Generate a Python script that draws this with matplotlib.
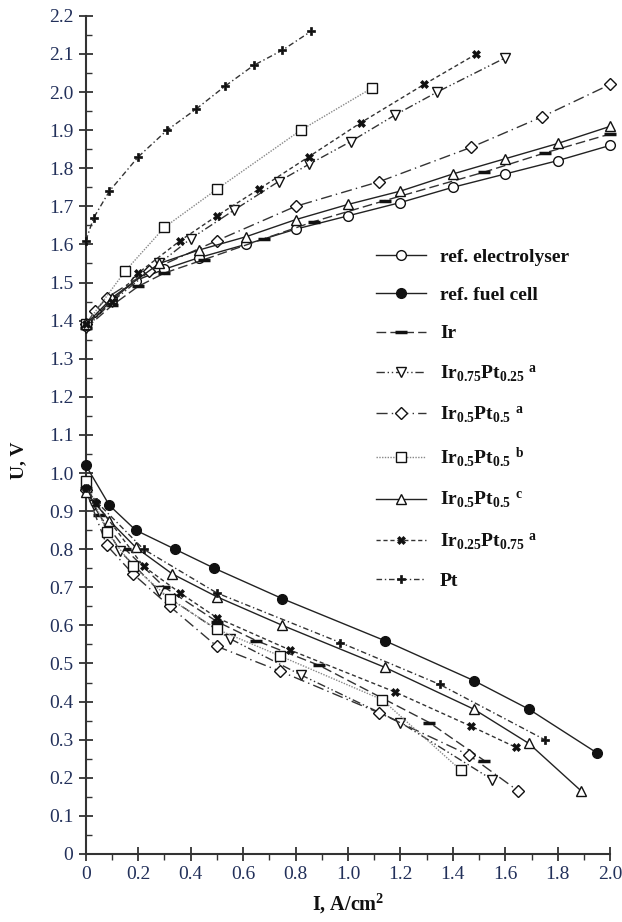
import numpy as np
import matplotlib
matplotlib.use('Agg')
import matplotlib.pyplot as plt
from matplotlib.ticker import MultipleLocator, FuncFormatter

plt.rcParams['font.family'] = ['Liberation Serif', 'DejaVu Serif']
plt.rcParams['mathtext.fontset'] = 'custom'
plt.rcParams['mathtext.rm'] = 'Liberation Serif'
plt.rcParams['mathtext.bf'] = 'Liberation Serif:bold'
plt.rcParams['mathtext.it'] = 'Liberation Serif:italic'

# electrolyser branch (upper) and fuel-cell branch (lower), I in A/cm2, U in V
el_ref_x = [0, 0.1, 0.19, 0.30, 0.43, 0.61, 0.80, 1.0, 1.2, 1.4, 1.6, 1.8, 2.0]
el_ref_y = [1.385, 1.455, 1.505, 1.535, 1.565, 1.60, 1.64, 1.675, 1.71, 1.75, 1.785, 1.82, 1.86]

fc_ref_x = [0, 0.09, 0.19, 0.34, 0.49, 0.75, 1.14, 1.48, 1.69, 1.95]
fc_ref_y = [1.02, 0.915, 0.85, 0.80, 0.75, 0.67, 0.56, 0.455, 0.38, 0.265]

ir_up_x = [0, 0.1, 0.2, 0.3, 0.45, 0.68, 0.87, 1.14, 1.52, 1.75, 2.0]
ir_up_y = [1.38, 1.44, 1.49, 1.525, 1.56, 1.615, 1.66, 1.715, 1.79, 1.84, 1.89]
ir_lo_x = [0, 0.05, 0.15, 0.30, 0.50, 0.65, 0.89, 1.31, 1.52]
ir_lo_y = [0.96, 0.89, 0.80, 0.70, 0.61, 0.56, 0.495, 0.345, 0.245]

i75_up_x = [0, 0.1, 0.28, 0.40, 0.565, 0.735, 0.85, 1.01, 1.18, 1.34, 1.60]
i75_up_y = [1.38, 1.45, 1.55, 1.615, 1.69, 1.765, 1.81, 1.87, 1.94, 2.0, 2.09]
i75_lo_x = [0, 0.03, 0.13, 0.28, 0.55, 0.82, 1.20, 1.55]
i75_lo_y = [0.96, 0.915, 0.795, 0.69, 0.565, 0.47, 0.345, 0.195]

i50a_up_x = [0, 0.035, 0.08, 0.24, 0.50, 0.80, 1.12, 1.47, 1.74, 2.0]
i50a_up_y = [1.39, 1.425, 1.46, 1.53, 1.61, 1.70, 1.765, 1.855, 1.935, 2.02]
i50a_lo_x = [0, 0.08, 0.18, 0.32, 0.50, 0.74, 1.12, 1.46, 1.65]
i50a_lo_y = [0.955, 0.81, 0.735, 0.65, 0.545, 0.48, 0.37, 0.26, 0.165]

i50b_up_x = [0, 0.15, 0.30, 0.50, 0.82, 1.09]
i50b_up_y = [1.39, 1.53, 1.645, 1.745, 1.90, 2.01]
i50b_lo_x = [0, 0.08, 0.18, 0.32, 0.50, 0.74, 1.13, 1.43]
i50b_lo_y = [0.98, 0.845, 0.755, 0.67, 0.59, 0.52, 0.405, 0.22]

i50c_up_x = [0, 0.1, 0.28, 0.43, 0.61, 0.80, 1.0, 1.2, 1.4, 1.6, 1.8, 2.0]
i50c_up_y = [1.39, 1.46, 1.55, 1.585, 1.62, 1.665, 1.705, 1.74, 1.785, 1.825, 1.865, 1.91]
i50c_lo_x = [0, 0.09, 0.19, 0.33, 0.50, 0.75, 1.14, 1.48, 1.69, 1.89]
i50c_lo_y = [0.95, 0.875, 0.805, 0.735, 0.675, 0.60, 0.49, 0.38, 0.29, 0.165]

i25_up_x = [0, 0.1, 0.2, 0.36, 0.5, 0.66, 0.85, 1.05, 1.29, 1.49]
i25_up_y = [1.39, 1.45, 1.525, 1.61, 1.675, 1.745, 1.83, 1.92, 2.02, 2.10]
i25_lo_x = [0, 0.04, 0.22, 0.36, 0.50, 0.78, 1.18, 1.47, 1.64]
i25_lo_y = [0.96, 0.92, 0.755, 0.685, 0.62, 0.535, 0.425, 0.335, 0.28]

pt_up_x = [0, 0.03, 0.09, 0.20, 0.31, 0.42, 0.53, 0.64, 0.75, 0.86]
pt_up_y = [1.61, 1.67, 1.74, 1.83, 1.90, 1.955, 2.015, 2.07, 2.11, 2.16]
pt_lo_x = [0, 0.04, 0.22, 0.50, 0.97, 1.35, 1.75]
pt_lo_y = [0.96, 0.925, 0.80, 0.685, 0.555, 0.445, 0.30]

labels = [
    'ref. electrolyser',
    'ref. fuel cell',
    'Ir',
    r'$\mathbf{Ir_{0.75}Pt_{0.25}}$ $^{\mathbf{a}}$',
    r'$\mathbf{Ir_{0.5}Pt_{0.5}}$ $^{\mathbf{a}}$',
    r'$\mathbf{Ir_{0.5}Pt_{0.5}}$ $^{\mathbf{b}}$',
    r'$\mathbf{Ir_{0.5}Pt_{0.5}}$ $^{\mathbf{c}}$',
    r'$\mathbf{Ir_{0.25}Pt_{0.75}}$ $^{\mathbf{a}}$',
    'Pt',
]

# (branches, line style, marker, facecolor, line colour)
series = [
    ([(el_ref_x, el_ref_y)], '-', 'o', 'white', '#222222'),
    ([(fc_ref_x, fc_ref_y)], '-', 'o', '#111111', '#222222'),
    ([(ir_up_x, ir_up_y), (ir_lo_x, ir_lo_y)], (0, (7, 3)), '_', '#111111', '#333333'),
    ([(i75_up_x, i75_up_y), (i75_lo_x, i75_lo_y)], (0, (6, 2, 1, 2, 1, 2)), 'v', 'white', '#333333'),
    ([(i50a_up_x, i50a_up_y), (i50a_lo_x, i50a_lo_y)], (0, (8, 3, 1, 3)), 'D', 'white', '#333333'),
    ([(i50b_up_x, i50b_up_y), (i50b_lo_x, i50b_lo_y)], (0, (1, 1)), 's', 'white', '#888888'),
    ([(i50c_up_x, i50c_up_y), (i50c_lo_x, i50c_lo_y)], '-', '^', 'white', '#222222'),
    ([(i25_up_x, i25_up_y), (i25_lo_x, i25_lo_y)], (0, (3, 2)), 'X', '#111111', '#333333'),
    ([(pt_up_x, pt_up_y), (pt_lo_x, pt_lo_y)], (0, (4, 2, 1, 2)), 'P', '#111111', '#333333'),
]

fig = plt.figure(figsize=(6.22, 9.22), dpi=100)
ax = fig.add_axes([0.138, 0.0738, 0.843, 0.909])

handles = []
for (branches, ls, mk, fc, lc), lab in zip(series, labels):
    ms = 7
    mew = 1.0
    if mk == 'D':
        ms = 6
    if mk == '_':
        ms = 8
        mew = 2.5
    if mk in ('X', 'P'):
        ms = 6
        mew = 0.5
    for k, (xs, ys) in enumerate(branches):
        ln, = ax.plot(xs, ys, linestyle=ls, color=lc, lw=1.0,
                      marker=mk, markersize=ms, markerfacecolor=fc,
                      markeredgecolor='#111111', markeredgewidth=mew,
                      clip_on=False, zorder=3)
        if k == 0:
            handles.append(ln)

ax.set_xlim(0, 2.0)
ax.set_ylim(0, 2.2)

for s in ['top', 'right']:
    ax.spines[s].set_visible(False)
for s in ['left', 'bottom']:
    ax.spines[s].set_linewidth(1.5)
    ax.spines[s].set_color('#333333')

ax.xaxis.set_major_locator(MultipleLocator(0.2))
ax.xaxis.set_minor_locator(MultipleLocator(0.1))
ax.yaxis.set_major_locator(MultipleLocator(0.1))
ax.yaxis.set_minor_locator(MultipleLocator(0.05))

fmt = FuncFormatter(lambda v, p: '0' if abs(v) < 1e-9 else f'{v:.1f}')
ax.xaxis.set_major_formatter(fmt)
ax.yaxis.set_major_formatter(fmt)

tick_col = '#22305a'
ax.tick_params(axis='x', which='major', direction='inout', length=10, width=1.3,
               color='#333333', labelsize=14, labelcolor=tick_col, pad=4)
ax.tick_params(axis='x', which='minor', direction='out', length=4, width=1.0, color='#333333')
ax.tick_params(axis='y', which='major', direction='inout', length=10, width=1.3,
               color='#333333', labelsize=14, labelcolor=tick_col, pad=4)
ax.tick_params(axis='y', which='minor', direction='in', length=4, width=1.0, color='#333333')

ax.set_ylabel('U, V', fontsize=14, fontweight='bold', color='#111111')
ax.yaxis.set_label_coords(-0.112, 0.47)
ax.set_xlabel(r'I, A/cm$^{\mathbf{2}}$', fontsize=14.5, fontweight='bold', color='#111111')
ax.xaxis.set_label_coords(0.5, -0.045)

leg = ax.legend(handles, labels, loc='upper left', bbox_to_anchor=(0.553, 0.723),
                frameon=False, numpoints=1, handlelength=2.6, handletextpad=0.7,
                labelspacing=1.07, borderpad=0, borderaxespad=0,
                prop={'family': 'Liberation Serif', 'weight': 'bold', 'size': 14})
for t in leg.get_texts():
    t.set_color('#111111')

fig.savefig('out.png', dpi=100)
